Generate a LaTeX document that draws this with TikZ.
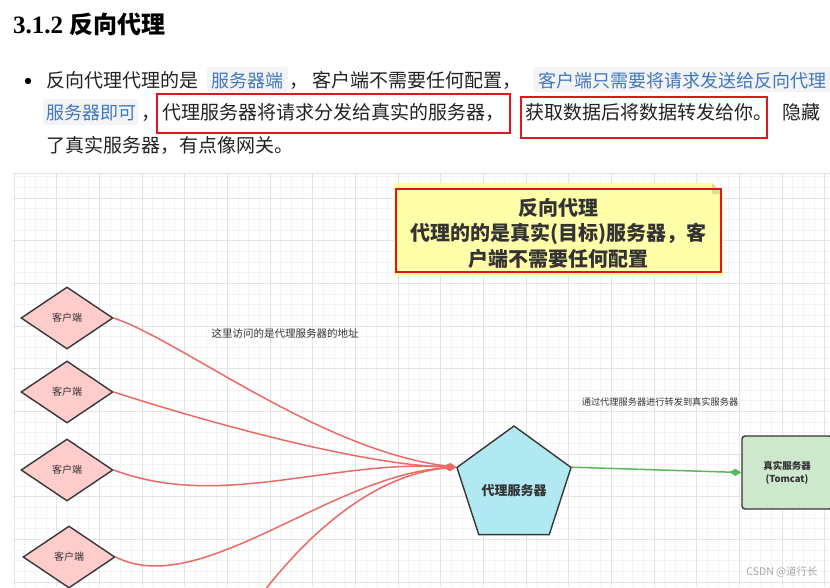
\documentclass[tikz,border=0pt]{standalone}
\usepackage{fontspec}
\setmainfont{Liberation Serif}
\newfontfamily\cjk{Noto Sans CJK SC}
\usetikzlibrary{shapes.geometric,arrows.meta}

\definecolor{bodytext}{RGB}{34,34,34}
\definecolor{codefg}{RGB}{64,120,192}
\definecolor{codebg}{RGB}{243,244,245}
\definecolor{markred}{RGB}{226,20,30}
\definecolor{gridminor}{RGB}{243,243,243}
\definecolor{gridmajor}{RGB}{228,228,228}
\definecolor{notefill}{RGB}{255,255,170}
\definecolor{notefold}{RGB}{222,222,140}
\definecolor{clientfill}{RGB}{255,204,204}
\definecolor{proxyfill}{RGB}{176,233,242}
\definecolor{serverfill}{RGB}{205,232,204}
\definecolor{linkred}{RGB}{234,107,102}
\definecolor{linkgreen}{RGB}{90,184,90}
\definecolor{shapeedge}{RGB}{55,55,55}

\begin{document}
\begin{tikzpicture}[x=1pt, y=-1pt,
		body/.style={anchor=base west, inner sep=0pt, text=bodytext, font=\cjk\fontsize{19}{19}\selectfont},
		codetext/.style={anchor=base west, inner sep=0pt, text=codefg, font=\cjk\fontsize{18}{18}\selectfont},
		client/.style={diamond, draw=shapeedge, line width=1.4pt, fill=clientfill, minimum width=92pt, minimum height=62pt, inner sep=0pt, text=black!80, font=\cjk\fontsize{10}{10}\selectfont},
		proxy/.style={regular polygon, regular polygon sides=5, draw=shapeedge, line width=1.4pt, fill=proxyfill, minimum size=120pt, inner sep=0pt},
		server/.style={rectangle, rounded corners=3pt, draw=shapeedge, line width=1.4pt, fill=serverfill, minimum width=90pt, minimum height=73pt, align=center, text=black!80, font=\cjk\bfseries\fontsize{9.5}{13}\selectfont},
		smalltext/.style={inner sep=0pt, text=black!80, font=\cjk\fontsize{10.5}{10.5}\selectfont},
		redlink/.style={draw=linkred, line width=1.5pt, -{Diamond[length=12pt,width=7pt]}},
		greenlink/.style={draw=linkgreen, line width=1.5pt, -{Diamond[length=12pt,width=7pt]}}]
		\useasboundingbox (0,0) rectangle (830,587);
		\clip (0,0) rectangle (830,587);
		\fill [white] (0,0) rectangle (830,587);

		% heading
		\node [anchor=base west, inner sep=0pt, text=black] (head) at (13,33.5) {\fontsize{25}{25}\selectfont\bfseries 3.1.2 {\cjk\fontsize{24}{24}\selectfont 反向代理}};

		% bullet text
		\fill [black] (28,81) circle (3.2);
		\fill [codebg, rounded corners=3pt] (207,67) rectangle (288,92);
		\fill [codebg, rounded corners=3pt] (533,67) rectangle (840,92);
		\fill [codebg, rounded corners=3pt] (43,99) rectangle (138,125);
		\node [body] (line1a) at (46,87) {反向代理代理的是};
		\node [codetext] (line1b) at (211.5,87) {服务器端};
		\node [body] (line1c) at (289,87) {，};
		\node [body] (line1d) at (312,87) {客户端不需要任何配置，};
		\node [codetext] (line1e) at (538,87) {客户端只需要将请求发送给反向代理};
		\node [codetext] (line2a) at (46,119) {服务器即可};
		\node [body] (line2b) at (141,119.5) {，};
		\node [body] (line2c) at (162,119.5) {代理服务器将请求分发给真实的服务器，};
		\node [body] (line2d) at (525,119.5) {获取数据后将数据转发给你。};
		\node [body] (line2e) at (782,119.5) {隐藏};
		\node [body] (line3) at (46,152.5) {了真实服务器，有点像网关。};
		\draw [markred, line width=2pt] (157,94) rectangle (510,133);
		\draw [markred, line width=2pt] (521,97) rectangle (767,138);

		% grid
		\begin{scope}
			\clip (13,173) rectangle (830,587);
			\foreach \i in {0,...,76}
				\draw [gridminor, line width=0.8pt] ({14+\i*10.667},173) -- ({14+\i*10.667},587);
			\foreach \j in {2,...,40}
				\draw [gridminor, line width=0.8pt] (13,{155.33+\j*10.667}) -- (830,{155.33+\j*10.667});
			\foreach \i in {0,...,19}
				\draw [gridmajor, line width=0.8pt] ({14+\i*42.667},173) -- ({14+\i*42.667},587);
			\foreach \j in {1,...,10}
				\draw [gridmajor, line width=0.8pt] (13,{155.33+\j*42.667}) -- (830,{155.33+\j*42.667});
			\draw [gridmajor, line width=0.8pt] (13,173) -- (830,173);
		\end{scope}

		% note
		\fill [notefill] (394,183) -- (712,183) -- (723,194) -- (723,276) -- (394,276) -- cycle;
		\fill [notefold] (712,183) -- (712,194) -- (723,194) -- cycle;
		\draw [markred, line width=2pt] (396,189) rectangle (721,272);
		\node [align=center, inner sep=0pt, text=black!80, font=\cjk\bfseries\fontsize{20}{25.5}\selectfont] (note) at (558,233) {反向代理\\代理的的是真实(目标)服务器，客\\户端不需要任何配置};

		% clients, proxy, real server
		\node [client] (c1) at (67,318) {客户端};
		\node [client] (c2) at (67,392) {客户端};
		\node [client] (c3) at (67,470) {客户端};
		\node [client] (c4) at (69,557) {客户端};
		\coordinate (c5) at (250,610);
		\node [proxy] (proxy) at (514,486) {};
		\node [inner sep=0pt, text=black!80, font=\cjk\bfseries\fontsize{13}{13}\selectfont] (proxytext) at (514,491) {代理服务器};
		\node [server] (tomcat) at (787,472.5) {真实服务器\\(Tomcat)};

		% requests into the proxy
		\draw [redlink] (c1.east) .. controls (180,340) and (320,450) .. (proxy.corner 2);
		\draw [redlink] (c2.east) .. controls (200,420) and (360,465) .. (proxy.corner 2);
		\draw [redlink] (c3.east) .. controls (220,510) and (330,460) .. (proxy.corner 2);
		\draw [redlink] (c4.east) .. controls (200,600) and (330,475) .. (proxy.corner 2);
		\draw [redlink] (c5) .. controls (300,540) and (370,475) .. (proxy.corner 2);
		\draw [greenlink] (proxy.corner 5) -- (tomcat.west);

		% labels
		\node [smalltext] (askproxy) at (285,333) {这里访问的是代理服务器的地址};
		\node [smalltext, font=\cjk\fontsize{9.2}{9.2}\selectfont] (forward) at (660,402) {通过代理服务器进行转发到真实服务器};
		\node [inner sep=0pt, text=black!35, font=\cjk\fontsize{10.5}{10.5}\selectfont] (mark) at (782,572) {CSDN @道行长};
	\end{tikzpicture}
\end{document}
